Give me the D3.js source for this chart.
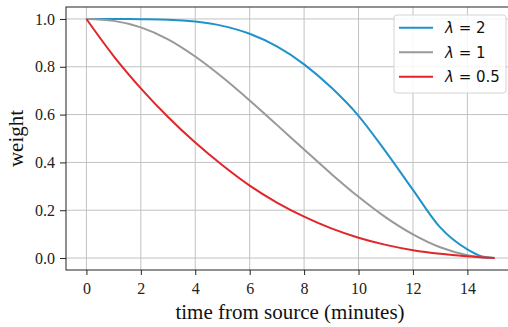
<!DOCTYPE html>
<head>
<meta charset="utf-8">
<script src="https://d3js.org/d3.v7.min.js"></script>
<style>
    body { margin: 0; background: #fff; }
    svg { display: block; }
    .tick text { font-family: "Liberation Serif", serif; font-size: 16px; fill: #222; }
    .axislabel { font-family: "Liberation Serif", serif; font-size: 21px; fill: #111; }
    .legend text { font-family: "DejaVu Sans", sans-serif; font-size: 15px; fill: #111; }
    .grid line { stroke: #c2c2c2; stroke-width: 1; }
</style>
</head>
<body>
<svg id="chart" width="508" height="327"></svg>
<script>
    // values
    var times = [0, 1, 2, 3, 4, 5, 6, 7, 8, 9, 10, 11, 12, 13, 14, 14.5, 15];
    var weightL2 = [1, 1.0, 0.999, 0.997, 0.989, 0.971, 0.938, 0.885, 0.810, 0.713, 0.595, 0.445, 0.285, 0.128, 0.036, 0.008, 0];
    var weightL1 = [1, 0.992, 0.965, 0.915, 0.843, 0.756, 0.659, 0.557, 0.454, 0.352, 0.256, 0.170, 0.099, 0.045, 0.012, 0.003, 0];
    var weightL05 = [1, 0.845, 0.710, 0.590, 0.483, 0.388, 0.303, 0.232, 0.173, 0.124, 0.085, 0.055, 0.033, 0.018, 0.008, 0.003, 0];
    var xTicks = [0, 2, 4, 6, 8, 10, 12, 14];
    var yTicks = [0, 0.2, 0.4, 0.6, 0.8, 1.0];

    var series = [
        {name: "2", color: "#1f93c9", values: weightL2},
        {name: "1", color: "#999999", values: weightL1},
        {name: "0.5", color: "#e0262a", values: weightL05}
    ];

    var svg = d3.select("#chart");
    var pLeft = 66, pTop = 7, pBottom = 270, pRight = 515;

    var x = d3.scaleLinear().domain([-0.75, 15.75]).range([pLeft, pRight]);
    var y = d3.scaleLinear().domain([-0.05, 1.05]).range([pBottom, pTop]);

    // grid
    var grid = svg.append("g").attr("class", "grid");
    xTicks.forEach(function (t) {
        grid.append("line").attr("x1", x(t)).attr("x2", x(t)).attr("y1", pTop).attr("y2", pBottom);
    });
    yTicks.forEach(function (t) {
        grid.append("line").attr("x1", pLeft).attr("x2", pRight).attr("y1", y(t)).attr("y2", y(t));
    });

    // axes
    var xAxis = svg.append("g")
        .attr("transform", "translate(0," + pBottom + ")")
        .call(d3.axisBottom(x).tickValues(xTicks).tickSize(5).tickPadding(8).tickFormat(d3.format("d")));
    var yAxis = svg.append("g")
        .attr("transform", "translate(" + pLeft + ",0)")
        .call(d3.axisLeft(y).tickValues(yTicks).tickSize(6).tickPadding(5).tickFormat(d3.format(".1f")));
    [xAxis, yAxis].forEach(function (a) {
        a.select(".domain").remove();
        a.selectAll(".tick line").attr("stroke", "#222");
    });

    // frame
    svg.append("rect")
        .attr("x", pLeft).attr("y", pTop)
        .attr("width", pRight - pLeft).attr("height", pBottom - pTop)
        .attr("fill", "none").attr("stroke", "#222").attr("stroke-width", 1);

    // lines
    var line = d3.line()
        .x(function (d, i) { return x(times[i]); })
        .y(function (d) { return y(d); })
        .curve(d3.curveMonotoneX);

    series.forEach(function (s) {
        svg.append("path")
            .attr("d", line(s.values))
            .attr("fill", "none")
            .attr("stroke", s.color)
            .attr("stroke-width", 2);
    });

    // legend
    var legend = svg.append("g").attr("class", "legend");
    legend.append("rect")
        .attr("x", 394).attr("y", 15).attr("width", 112).attr("height", 78)
        .attr("rx", 3)
        .attr("fill", "#fff").attr("fill-opacity", 0.85)
        .attr("stroke", "#d4d4d4");
    series.forEach(function (s, i) {
        var ly = 27.7 + i * 24.5;
        legend.append("line")
            .attr("x1", 399).attr("x2", 433).attr("y1", ly).attr("y2", ly)
            .attr("stroke", s.color).attr("stroke-width", 2);
        var t = legend.append("text").attr("x", 445).attr("y", ly + 5.5);
        t.append("tspan").attr("font-style", "italic").text("λ");
        t.append("tspan").text(" = " + s.name);
    });

    // axis labels
    svg.append("text").attr("class", "axislabel")
        .attr("x", 290).attr("y", 319)
        .attr("text-anchor", "middle")
        .text("time from source (minutes)");
    svg.append("text").attr("class", "axislabel")
        .attr("transform", "translate(23," + ((pTop + pBottom) / 2) + ") rotate(-90)")
        .attr("text-anchor", "middle")
        .text("weight");
</script>
</body>
